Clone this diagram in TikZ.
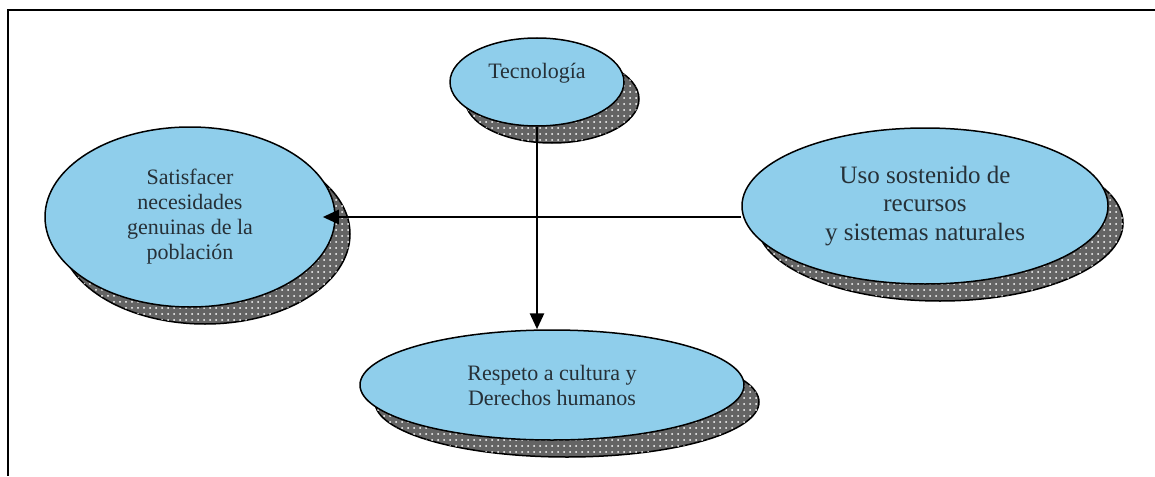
\documentclass[tikz,border=0pt]{standalone}
\usepackage{fontspec}
\setmainfont{Liberation Serif}
\usetikzlibrary{shapes.geometric,shadows,patterns,arrows.meta}

\definecolor{ideablue}{RGB}{143,206,235}
\definecolor{ideagray}{RGB}{100,100,100}
\definecolor{ideatext}{RGB}{38,48,55}

\begin{document}
\begin{tikzpicture}[x=0.5pt,y=-0.5pt,
    idea/.style={ellipse,draw,line width=0.75pt,fill=ideablue,text=ideatext,
        inner sep=0pt,align=center,font=\fontsize{11}{12.5}\selectfont,
        drop shadow={shadow xshift=7.5pt,shadow yshift=-8.5pt,opacity=1,
            fill=ideagray,draw=black,line width=0.75pt,
            postaction={pattern=dots,pattern color=white}}},
    link/.style={line width=1.4pt,-{Triangle[length=8pt,width=7pt]}}]
    \useasboundingbox (0,0) rectangle (1155,476);
    % frame
    \draw[line width=1pt] (1155,10) -- (8,10) -- (8,476);
    \node[idea,minimum width=87pt,minimum height=44pt,text depth=11.5pt] (tec) at (537,82) {Tecnología};
    \node[idea,minimum width=145pt,minimum height=90pt] (sat) at (190,217) {Satisfacer\\necesidades\\genuinas de la\\población};
    \node[idea,minimum width=183pt,minimum height=78pt,font=\fontsize{12.5}{14.25}\selectfont] (uso) at (925,206) {Uso sostenido de\\recursos\\y sistemas naturales};
    \node[idea,minimum width=192pt,minimum height=55pt] (res) at (552,385) {Respeto a cultura y\\Derechos humanos};
    \draw[link] (tec.south) -- (tec.south |- res.north);
    \draw[link,shorten >=-6.5pt] (uso.west |- sat.east) -- (sat.east);
\end{tikzpicture}
\end{document}
